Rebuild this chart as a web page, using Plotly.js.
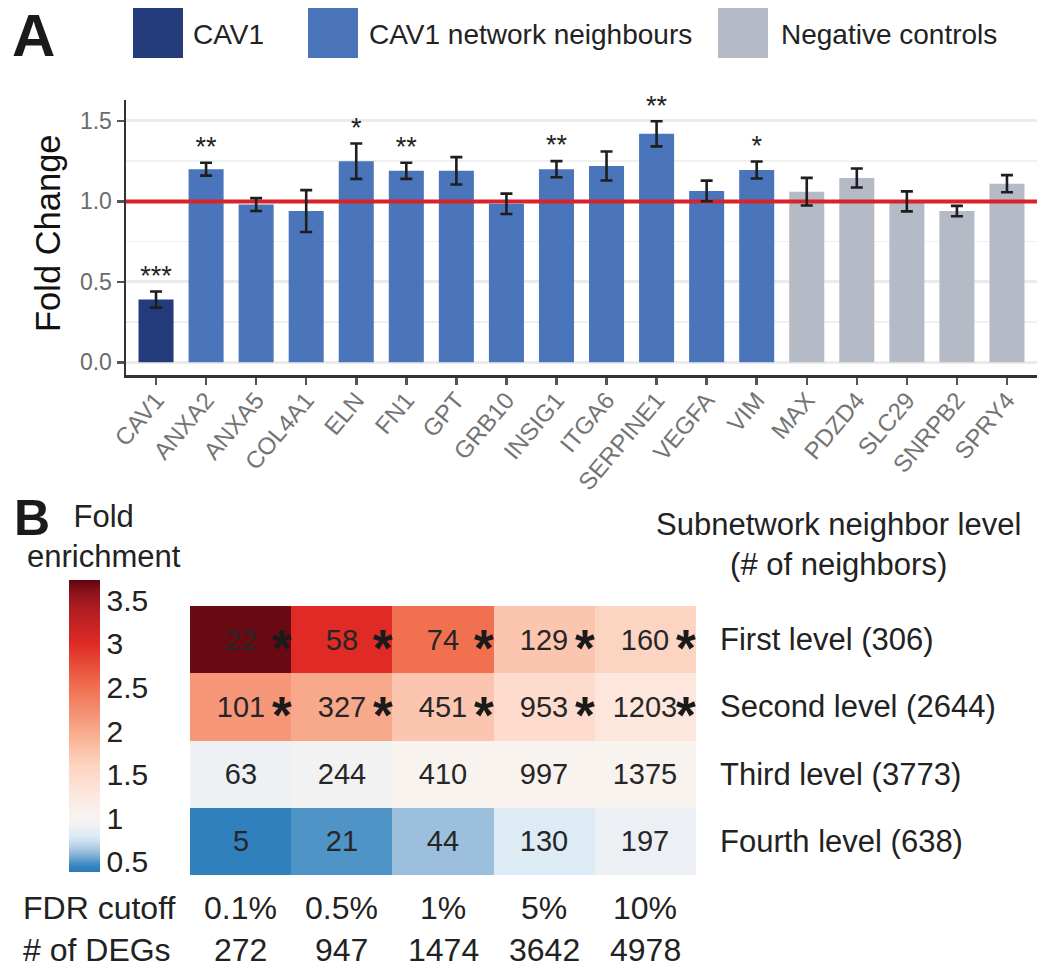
<!DOCTYPE html>
<html>
<head>
<meta charset="utf-8">
<script src="https://cdn.plot.ly/plotly-3.0.1.min.js"></script>
<style>html,body{margin:0;padding:0;background:#fff;}#chart{width:1041px;height:968px;}</style>
</head>
<body>
<div id="chart"></div>
<script>
// ---------- Panel A data ----------
const genes = ['CAV1','ANXA2','ANXA5','COL4A1','ELN','FN1','GPT','GRB10','INSIG1','ITGA6','SERPINE1','VEGFA','VIM','MAX','PDZD4','SLC29','SNRPB2','SPRY4'];
const foldChange = [0.39,1.20,0.98,0.94,1.25,1.19,1.19,0.985,1.20,1.22,1.42,1.065,1.195,1.06,1.145,1.00,0.94,1.11];
const foldErr = [0.05,0.04,0.04,0.13,0.11,0.05,0.085,0.063,0.05,0.09,0.078,0.064,0.053,0.086,0.059,0.062,0.032,0.053];
const geneGroup = ['CAV1','CAV1 network neighbours','CAV1 network neighbours','CAV1 network neighbours','CAV1 network neighbours','CAV1 network neighbours','CAV1 network neighbours','CAV1 network neighbours','CAV1 network neighbours','CAV1 network neighbours','CAV1 network neighbours','CAV1 network neighbours','CAV1 network neighbours','Negative controls','Negative controls','Negative controls','Negative controls','Negative controls'];
const significance = ['***','**','','','*','**','','','**','','**','','*','','','','',''];
const groupNames = ['CAV1','CAV1 network neighbours','Negative controls'];
const groupColors = ['#233b7b','#4a75bb','#b5bbc6'];

// ---------- Panel B data ----------
const fdrCutoffs = ['0.1%','0.5%','1%','5%','10%'];
const degCounts = ['272','947','1474','3642','4978'];
const levelLabels = ['First level (306)','Second level (2644)','Third level (3773)','Fourth level (638)'];
const overlapCounts = [[22,58,74,129,160],[101,327,451,953,1203],[63,244,410,997,1375],[5,21,44,130,197]];
const foldEnrichment = [[3.7,3.0,2.5,1.75,1.6],[2.15,2.0,1.75,1.45,1.3],[0.92,0.95,1.03,1.03,1.03],[0.42,0.5,0.62,0.8,0.9]];
const enrichSignif = [[1,1,1,1,1],[1,1,1,1,1],[0,0,0,0,0],[0,0,0,0,0]];
const cbTicks = [0.5,1,1.5,2,2.5,3,3.5];
const cbTickText = ['0.5','1','1.5','2','2.5','3','3.5'];

// ---------- styling ----------
const W = 1041, H = 968;
const FONT = '"Liberation Sans", Arial, Helvetica, sans-serif';
const TXT = '#222222';
const px = x => x / W;
const py = y => 1 - y / H;
const zMin = 0.385, zMax = 3.73;
const colorStops = [
  [0.385,'#2b7bba'],[0.45,'#3584c0'],[0.5,'#4f94c7'],[0.55,'#72a8d3'],[0.62,'#9bbfdd'],
  [0.7,'#c0d7eb'],[0.8,'#ddebf5'],[0.9,'#ecf0f4'],[1.0,'#f8f4f2'],[1.3,'#fde6dc'],
  [1.45,'#fddccd'],[1.6,'#fcd4c2'],[1.75,'#fcc5af'],[2.0,'#f8a98b'],[2.15,'#f6977a'],
  [2.5,'#f07050'],[3.0,'#df2a26'],[3.4,'#b01c22'],[3.6,'#8a1219'],[3.73,'#5e0611']
];
const colorscale = colorStops.map(s => [(s[0]-zMin)/(zMax-zMin), s[1]]);

const idx = genes.map((g,i)=>i);
const barColors = geneGroup.map(g => groupColors[groupNames.indexOf(g)]);

const traces = [];
traces.push({
  type:'bar', x: idx, y: foldChange, width: 0.7,
  marker:{color: barColors, line:{width:0}},
  xaxis:'x', yaxis:'y', hoverinfo:'skip', showlegend:false
});
// reference line at fold change 1
traces.push({
  type:'scatter', mode:'lines', x:[-0.6, genes.length-0.4], y:[1,1],
  line:{color:'#d9232a', width:4}, xaxis:'x', yaxis:'y', hoverinfo:'skip', showlegend:false
});
// error bars
traces.push({
  type:'scatter', mode:'markers', x: idx, y: foldChange,
  marker:{size:0.1, color:'rgba(0,0,0,0)'},
  error_y:{type:'data', array: foldErr, visible:true, color:'#1e1e1e', thickness:2.6, width:6},
  xaxis:'x', yaxis:'y', hoverinfo:'skip', showlegend:false
});
// significance stars
traces.push({
  type:'scatter', mode:'text', x: idx, y: foldChange.map((v,i)=>v+foldErr[i]),
  text: significance, textposition:'top center',
  textfont:{family:FONT, size:27, color:TXT},
  xaxis:'x', yaxis:'y', hoverinfo:'skip', showlegend:false, cliponaxis:false
});
// heatmap
traces.push({
  type:'heatmap', z: foldEnrichment, x:[0,1,2,3,4], y:[0,1,2,3],
  text: overlapCounts, texttemplate:'%{text}',
  textfont:{family:FONT, size:29, color:'#262626'},
  colorscale: colorscale, zmin: zMin, zmax: zMax,
  xaxis:'x2', yaxis:'y2', hoverinfo:'skip', xgap:0, ygap:0,
  colorbar:{
    x: px(69), xanchor:'left', y: py(580), yanchor:'top',
    thickness: 31, thicknessmode:'pixels', len: 292/H, lenmode:'fraction',
    outlinewidth:0, ticks:'', tickvals: cbTicks, ticktext: cbTickText,
    tickfont:{family:FONT, size:30, color:TXT}, ticklabelposition:'outside', xpad:0, ypad:0
  }
});

const annotations = [];
// panel letters
annotations.push({text:'<b>A</b>', x:px(10), y:py(35), xref:'paper', yref:'paper', xanchor:'left', yanchor:'middle', showarrow:false, font:{family:FONT, size:60, color:'#1a1a1a'}});
annotations.push({text:'<b>B</b>', x:px(12), y:py(518), xref:'paper', yref:'paper', xanchor:'left', yanchor:'middle', showarrow:false, font:{family:FONT, size:50, color:'#1a1a1a'}});
// legend
const legendSquareX = [133, 308, 718];
const legendTextX = [191, 367, 779];
const shapes = [];
groupNames.forEach((g,i)=>{
  shapes.push({type:'rect', xref:'paper', yref:'paper', x0:px(legendSquareX[i]), x1:px(legendSquareX[i]+50), y0:py(58), y1:py(8), fillcolor:groupColors[i], line:{width:0}});
  annotations.push({text:g, x:px(legendTextX[i]), y:py(34), xref:'paper', yref:'paper', xanchor:'left', yanchor:'middle', showarrow:false, font:{family:FONT, size:28, color:TXT}});
});
// y title of A
annotations.push({text:'Fold Change', x:px(48), y:py(233), xref:'paper', yref:'paper', xanchor:'center', yanchor:'middle', textangle:-90, showarrow:false, font:{family:FONT, size:34.5, color:'#111'}});
// colorbar title
annotations.push({text:'Fold<br>enrichment', x:px(104), y:py(536), xref:'paper', yref:'paper', xanchor:'center', yanchor:'middle', align:'center', showarrow:false, font:{family:FONT, size:31, color:TXT}});
// right header
annotations.push({text:'Subnetwork neighbor level<br>(# of neighbors)', x:px(838), y:py(544), xref:'paper', yref:'paper', xanchor:'center', yanchor:'middle', align:'center', showarrow:false, font:{family:FONT, size:31, color:TXT}});
// row labels
levelLabels.forEach((t,r)=>{
  annotations.push({text:t, x:px(718), y:r, xref:'paper', yref:'y2', xanchor:'left', yanchor:'middle', showarrow:false, font:{family:FONT, size:31, color:TXT}});
});
// significance stars in heatmap
enrichSignif.forEach((row,r)=>row.forEach((s,c)=>{
  if (s) annotations.push({text:'<b>*</b>', x:c+0.405, y:r, xref:'x2', yref:'y2', xanchor:'center', yanchor:'middle', yshift:-9, showarrow:false, font:{family:FONT, size:51, color:'#1a1a1a'}});
}));
// bottom rows
annotations.push({text:'FDR cutoff', x:px(21), y:py(908), xref:'paper', yref:'paper', xanchor:'left', yanchor:'middle', showarrow:false, font:{family:FONT, size:32, color:TXT}});
annotations.push({text:'# of DEGs', x:px(21), y:py(950), xref:'paper', yref:'paper', xanchor:'left', yanchor:'middle', showarrow:false, font:{family:FONT, size:32, color:TXT}});
fdrCutoffs.forEach((t,c)=>{
  annotations.push({text:t, x:c, y:py(908), xref:'x2', yref:'paper', xanchor:'center', yanchor:'middle', showarrow:false, font:{family:FONT, size:32, color:TXT}});
  annotations.push({text:degCounts[c], x:c, y:py(950), xref:'x2', yref:'paper', xanchor:'center', yanchor:'middle', showarrow:false, font:{family:FONT, size:32, color:TXT}});
});

const layout = {
  width: W, height: H,
  margin:{l:0, r:0, t:0, b:0, pad:0},
  paper_bgcolor:'#ffffff', plot_bgcolor:'#ffffff',
  font:{family:FONT, color:TXT},
  showlegend:false,
  bargap:0.3,
  xaxis:{
    domain:[px(126), px(1037)], range:[-0.6, genes.length-0.4],
    tickvals: idx, ticktext: genes, tickangle:-50,
    tickfont:{family:FONT, size:24, color:'#747474'},
    ticklabelstandoff:-8,
    showline:true, linecolor:'#333', linewidth:2.5, mirror:false,
    ticks:'outside', ticklen:7, tickwidth:2.5, tickcolor:'#555',
    showgrid:false, zeroline:false, anchor:'y', fixedrange:true
  },
  yaxis:{
    domain:[py(375), py(100)], range:[-0.079, 1.63],
    tickvals:[0,0.5,1,1.5], ticktext:['0.0','0.5','1.0','1.5'],
    tickfont:{family:FONT, size:23, color:'#6b6b6b'},
    showline:true, linecolor:'#333', linewidth:2.5,
    ticks:'outside', ticklen:7, tickwidth:2.5, tickcolor:'#555',
    showgrid:true, gridcolor:'#ebebeb', gridwidth:3,
    minor:{tickvals:[0.25,0.75,1.25], showgrid:true, gridcolor:'#f0f0f0', gridwidth:1.5, ticks:''},
    zeroline:false, anchor:'x', fixedrange:true
  },
  xaxis2:{
    domain:[px(190), px(696)], range:[-0.5,4.5], showticklabels:false, ticks:'',
    showgrid:false, zeroline:false, showline:false, anchor:'y2', fixedrange:true
  },
  yaxis2:{
    domain:[py(875), py(606)], range:[3.5,-0.5], showticklabels:false, ticks:'',
    showgrid:false, zeroline:false, showline:false, anchor:'x2', fixedrange:true
  },
  shapes: shapes,
  annotations: annotations
};

Plotly.newPlot('chart', traces, layout, {displayModeBar:false, staticPlot:true});
</script>
</body>
</html>
